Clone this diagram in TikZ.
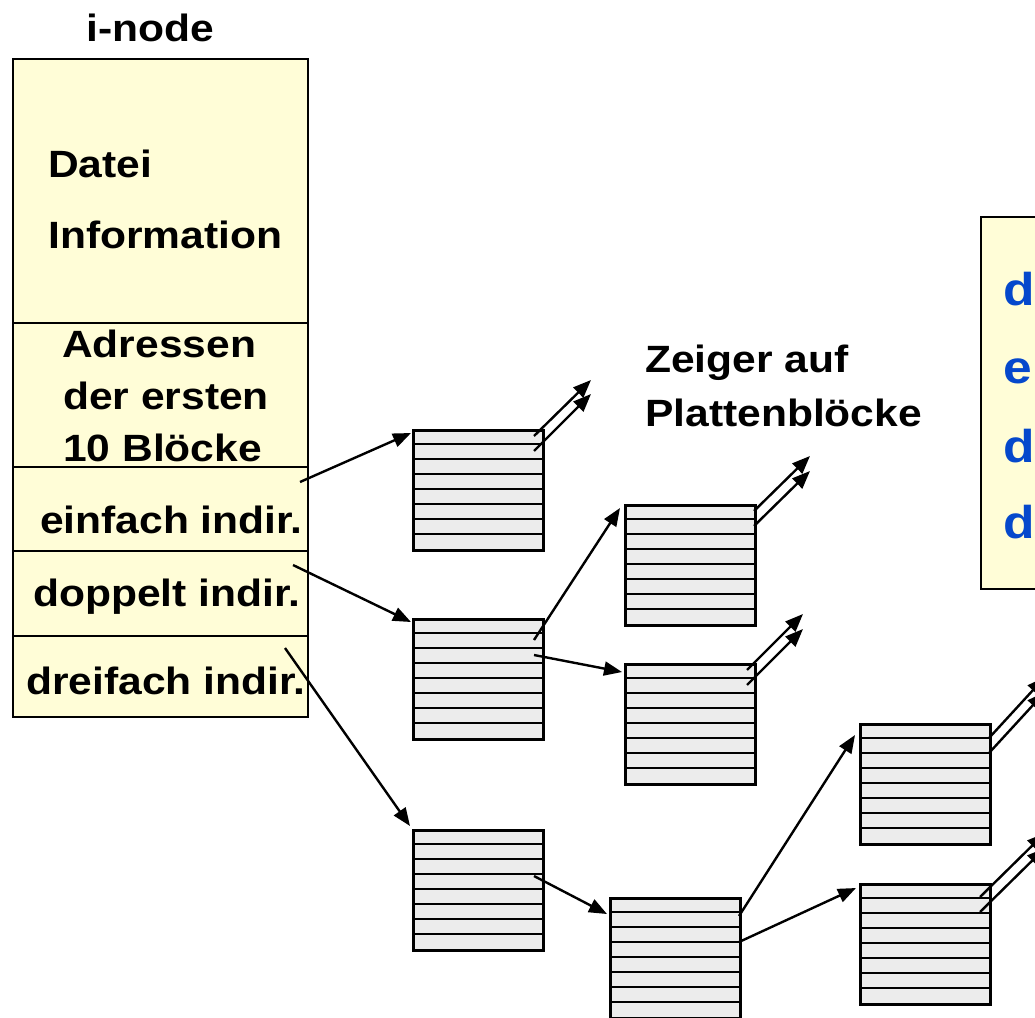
\documentclass[tikz,border=0pt]{standalone}
\usepackage{fontspec}
\setmainfont{Liberation Sans}[FakeStretch=1.12]
\usetikzlibrary{arrows.meta,calc}
\definecolor{inyellow}{RGB}{255,253,215}
\definecolor{blkgray}{RGB}{236,236,236}
\definecolor{legblue}{RGB}{5,72,204}
\tikzset{
  ibox/.style={draw=black, line width=2.4pt, fill=inyellow, anchor=north west, inner sep=0pt, minimum width=295pt},
  blk/.style={draw=black, line width=2.6pt, fill=blkgray, anchor=north west, inner sep=0pt, minimum width=130pt, minimum height=120pt},
  rowline/.style={line width=2.4pt},
  lbl/.style={anchor=base west, inner sep=0pt, font=\fontsize{38}{45}\selectfont\bfseries},
  leg/.style={anchor=base west, inner sep=0pt, text=legblue, font=\fontsize{46}{56}\selectfont\bfseries},
  arr/.style={line width=2.4pt, -{Triangle[length=18pt,width=14pt]}},
}
\newcommand\datablock[3]{%
  \node[blk] (#1) at (#2,#3) {};
  \foreach \i in {1,...,7} \draw[rowline] ($(#1.north west)+(0,15*\i)$) -- ($(#1.north east)+(0,15*\i)$);
}
\begin{document}
\begin{tikzpicture}[x=1pt,y=-1pt]
\useasboundingbox (0,0) rectangle (1035,1017);
% i-node
\node[lbl] (title) at (86,41.7) {i-node};
\node[ibox, minimum height=264pt] (info) at (12,58) {};
\node[ibox, minimum height=144pt] (addr) at (12,322) {};
\node[ibox, minimum height=84pt] (einf) at (12,466) {};
\node[ibox, minimum height=85pt] (dopp) at (12,550) {};
\node[ibox, minimum height=81pt] (drei) at (12,635) {};
\node[lbl] (t1) at (48,177) {Datei};
\node[lbl] (t2) at (48,248) {Information};
\node[lbl] (t3) at (62,357) {Adressen};
\node[lbl] (t4) at (63,409) {der ersten};
\node[lbl] (t5) at (63,461) {10 Blöcke};
\node[lbl] (t6) at (40,533) {einfach indir.};
\node[lbl] (t7) at (33,606) {doppelt indir.};
\node[lbl] (t8) at (26,694) {dreifach indir.};
% caption
\node[lbl] (z1) at (645,372) {Zeiger auf};
\node[lbl] (z2) at (645,426) {Plattenblöcke};
% legend box (cut off)
\node[draw=black, line width=2.4pt, fill=inyellow, anchor=north west, inner sep=0pt, minimum width=120pt, minimum height=372pt] (legend) at (980,216) {};
\node[leg] (l1) at (1003,305) {d};
\node[leg] (l2) at (1003,383) {e};
\node[leg] (l3) at (1003,462) {d};
\node[leg] (l4) at (1003,538) {d};
% blocks
\datablock{A}{412}{429}
\datablock{B}{412}{618}
\datablock{C}{412}{829}
\datablock{D}{624}{504}
\datablock{E}{624}{663}
\datablock{F}{609}{897}
\datablock{G}{859}{723}
\datablock{H}{859}{883}
% pointer start coordinates
\coordinate (pe) at (300,482);
\coordinate (pd) at (293,565);
\coordinate (pt) at (285,648);
\coordinate (a1) at (534,436);
\coordinate (a2) at (534,451);
\coordinate (a1e) at (591,380);
\coordinate (a2e) at (591,394);
\coordinate (b1) at (534,640);
\coordinate (b2) at (534,655);
\coordinate (d1) at (754,511);
\coordinate (d2) at (754,526);
\coordinate (d1e) at (810,456);
\coordinate (d2e) at (810,471);
\coordinate (e1) at (747,670);
\coordinate (e2) at (747,685);
\coordinate (e1e) at (803,614);
\coordinate (e2e) at (803,629);
\coordinate (c1) at (534,876);
\coordinate (f1) at (739,916);
\coordinate (f2) at (739,942);
\coordinate (g1) at (989,738);
\coordinate (g2) at (989,753);
\coordinate (g1e) at (1045,677);
\coordinate (g2e) at (1045,692);
\coordinate (h1) at (980,897);
\coordinate (h2) at (980,912);
\coordinate (h1e) at (1045,833);
\coordinate (h2e) at (1045,848);
% connectors
\draw[arr] (pe) -- ($(A.north west)+(-1,4)$);
\draw[arr] (pd) -- ($(B.north west)+(-1,4)$);
\draw[arr] (pt) -- ($(C.north west)+(-2,-3)$);
\draw[arr] (a1) -- (a1e);
\draw[arr] (a2) -- (a2e);
\draw[arr] (b1) -- ($(D.north west)+(-4,4)$);
\draw[arr] (b2) -- ($(E.north west)+(-2,9)$);
\draw[arr] (d1) -- (d1e);
\draw[arr] (d2) -- (d2e);
\draw[arr] (e1) -- (e1e);
\draw[arr] (e2) -- (e2e);
\draw[arr] (c1) -- ($(F.north west)+(-2,17)$);
\draw[arr] (f1) -- ($(G.north west)+(-4,12)$);
\draw[arr] (f2) -- ($(H.north west)+(-3,5)$);
\draw[arr] (g1) -- (g1e);
\draw[arr] (g2) -- (g2e);
\draw[arr] (h1) -- (h1e);
\draw[arr] (h2) -- (h2e);
\end{tikzpicture}
\end{document}
